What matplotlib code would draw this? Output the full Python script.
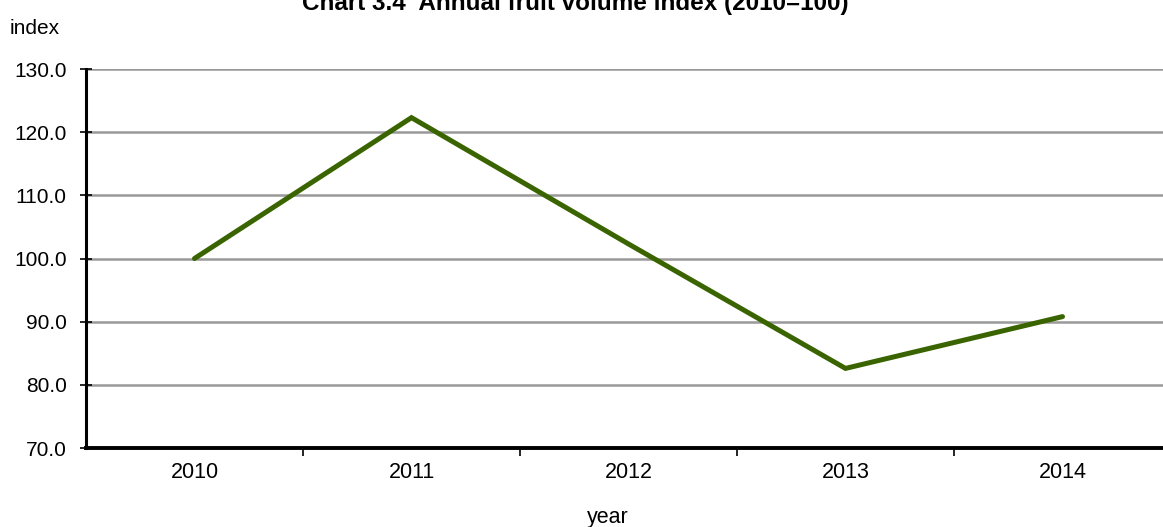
import matplotlib
matplotlib.use("Agg")
import matplotlib.pyplot as plt
from matplotlib.ticker import FixedLocator, NullFormatter, FixedFormatter

years = ["2010", "2011", "2012", "2013", "2014"]
index_values = [100.0, 122.3, 102.3, 82.6, 90.8]
y_ticks = [70, 80, 90, 100, 110, 120, 130]
y_tick_labels = ["70.0", "80.0", "90.0", "100.0", "110.0", "120.0", "130.0"]

plt.rcParams['font.family'] = ['Liberation Sans', 'DejaVu Sans']

W, H = 1163, 527
fig = plt.figure(figsize=(W / 100, H / 100), dpi=100)
ax = fig.add_axes([86 / W, (H - 448) / H, (1171 - 86) / W, (448 - 69) / H])

x = list(range(len(years)))
ax.plot(x, index_values, color="#3a6400", lw=3.6, solid_capstyle="round",
        solid_joinstyle="miter", zorder=3)

ax.set_xlim(-0.5, len(years) - 0.5)
ax.set_ylim(70, 130)

ax.set_yticks(y_ticks)
ax.set_yticklabels(y_tick_labels, fontsize=15)
ax.yaxis.grid(True, color="#999999", lw=1.8, zorder=1)
ax.set_axisbelow(True)
ax.tick_params(axis="y", direction="inout", length=8, width=1.2, pad=10)

ax.xaxis.set_major_locator(FixedLocator([i + 0.5 for i in range(len(years) - 1)]))
ax.xaxis.set_major_formatter(NullFormatter())
ax.xaxis.set_minor_locator(FixedLocator(x))
ax.xaxis.set_minor_formatter(FixedFormatter(years))
ax.tick_params(axis="x", which="major", direction="out", length=6, width=1.2)
ax.tick_params(axis="x", which="minor", length=0, pad=10, labelsize=15.5)

for s in ["top", "right"]:
    ax.spines[s].set_visible(False)
ax.spines["left"].set_linewidth(2.2)
ax.spines["bottom"].set_linewidth(2.8)

fig.text(575 / W, (H - 10) / H, "Chart 3.4  Annual fruit volume index (2010=100)",
         ha="center", va="baseline", fontsize=17.5, fontweight="bold")
fig.text(10 / W, (H - 28) / H, "index", ha="left", va="center", fontsize=15)
fig.text(608 / W, (H - 518) / H, "year", ha="center", va="center", fontsize=15.5)

fig.savefig("out.png", dpi=100)
